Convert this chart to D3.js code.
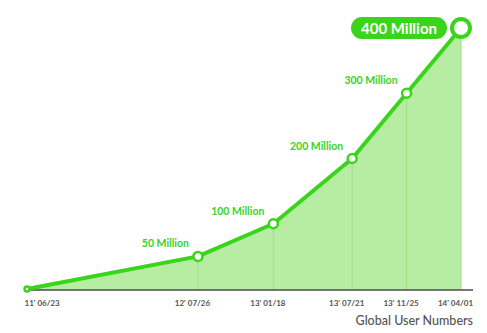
<!DOCTYPE html>
<html>
<head>
<meta charset="utf-8">
<script src="https://cdn.jsdelivr.net/npm/d3@7"></script>
<style>
  html, body { margin: 0; padding: 0; background: #fff; }
  svg { display: block; font-family: Lato, "Open Sans", sans-serif; }
</style>
</head>
<body>
<svg id="chart" width="487" height="333"></svg>
<script>
// Milestone dates and cumulative registered users (millions)
const dates = ["2011-06-23", "2012-07-26", "2013-01-18", "2013-07-21", "2013-11-25", "2014-04-01"];
const tickLabels = ["11' 06/23", "12' 07/26", "13' 01/18", "13' 07/21", "13' 11/25", "14' 04/01"];
const users = [0, 50, 100, 200, 300, 400];
const valueLabels = ["", "50 Million", "100 Million", "200 Million", "300 Million", "400 Million"];

const GREEN = "#3bd41c";
const FILL = "#b6eda2";
const GRID = "#9fe089";
const AXIS = "#4a4a4a";
const TEXT = "#555";

const parse = d3.timeParse("%Y-%m-%d");
const data = dates.map((d, i) => ({
  date: parse(d), value: users[i], tick: tickLabels[i], label: valueLabels[i]
}));

const svg = d3.select("#chart");
const baseY = 290;

const x = d3.scaleTime()
  .domain(d3.extent(data, d => d.date))
  .range([27, 461]);
const y = d3.scaleLinear()
  .domain([0, 400])
  .range([289, 28]);

// shaded area under the curve
svg.append("path")
  .datum(data)
  .attr("fill", FILL)
  .attr("d", d3.area().x(d => x(d.date)).y0(baseY).y1(d => y(d.value)));

// drop lines from each milestone
svg.selectAll("line.drop")
  .data(data.slice(1))
  .join("line")
  .attr("class", "drop")
  .attr("x1", d => x(d.date)).attr("x2", d => x(d.date))
  .attr("y1", d => y(d.value)).attr("y2", baseY)
  .attr("stroke", GRID).attr("stroke-width", 1);

// baseline axis
const axis = d3.axisBottom(x)
  .tickValues(data.map(d => d.date))
  .tickSize(0)
  .tickPadding(10)
  .tickFormat((d, i) => tickLabels[i]);
const gAxis = svg.append("g")
  .attr("transform", `translate(0,${baseY})`)
  .call(axis);
gAxis.select(".domain").remove();
gAxis.append("line")
  .attr("x1", 24).attr("x2", 473)
  .attr("stroke", AXIS).attr("stroke-width", 1.5);
gAxis.selectAll(".tick text")
  .attr("fill", TEXT)
  .attr("font-size", 8)
  .attr("font-weight", 700)
  .attr("font-family", "Lato, sans-serif")
  .attr("text-anchor", (d, i) => i === 0 ? "start" : "middle")
  .attr("dx", (d, i) => i === 0 ? -3 : -6);

// growth line
svg.append("path")
  .datum(data)
  .attr("fill", "none")
  .attr("stroke", GREEN)
  .attr("stroke-width", 4)
  .attr("stroke-linejoin", "round")
  .attr("d", d3.line().x(d => x(d.date)).y(d => y(d.value)));

// milestone markers
const lastIdx = data.length - 1;
svg.selectAll("circle.pt")
  .data(data)
  .join("circle")
  .attr("class", "pt")
  .attr("cx", d => x(d.date))
  .attr("cy", d => y(d.value))
  .attr("r", (d, i) => i === lastIdx ? 9 : (i === 0 ? 2.5 : 4.5))
  .attr("fill", "#fff")
  .attr("stroke", GREEN)
  .attr("stroke-width", (d, i) => i === lastIdx ? 4 : 2.5);

// value labels for intermediate milestones
svg.selectAll("text.val")
  .data(data.slice(1, lastIdx))
  .join("text")
  .attr("class", "val")
  .attr("x", d => x(d.date) - 9)
  .attr("y", d => y(d.value) - 9)
  .attr("text-anchor", "end")
  .attr("fill", GREEN)
  .attr("font-size", 10.5)
  .attr("font-weight", 700)
  .text(d => d.label);

// highlighted label for the latest milestone
const latest = data[lastIdx];
const pill = svg.append("g")
  .attr("transform", `translate(${x(latest.date) - 14},${y(latest.value)})`);
pill.append("rect")
  .attr("x", -96).attr("y", -11)
  .attr("width", 96).attr("height", 22)
  .attr("rx", 11)
  .attr("fill", GREEN);
pill.append("text")
  .attr("x", -48).attr("y", 5.5)
  .attr("text-anchor", "middle")
  .attr("fill", "#fff")
  .attr("font-size", 15)
  .attr("font-weight", 700)
  .text(latest.label);

// caption
svg.append("text")
  .attr("x", 473).attr("y", 325)
  .attr("text-anchor", "end")
  .attr("fill", TEXT)
  .attr("font-size", 12.5)
  .attr("font-weight", 500)
  .text("Global User Numbers");
</script>
</body>
</html>
